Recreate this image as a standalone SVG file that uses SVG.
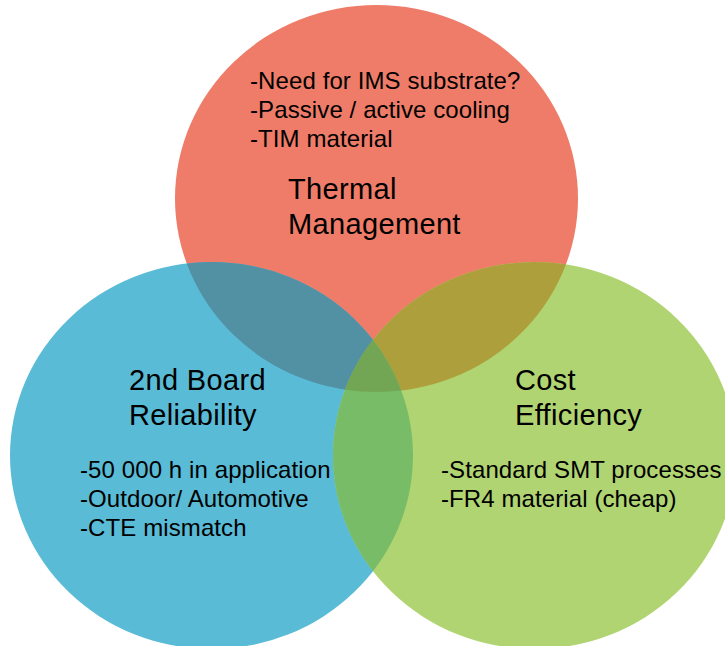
<svg xmlns="http://www.w3.org/2000/svg" width="725" height="646" viewBox="0 0 725 646">
  <style>
    .title { font-family: "Liberation Sans", Arial, Helvetica, sans-serif; font-size: 29px; letter-spacing: 0.35px; fill: #000; }
    .item { font-family: "Liberation Sans", Arial, Helvetica, sans-serif; font-size: 24px; letter-spacing: 0.1px; fill: #000; }
  </style>
  <defs>
    <ellipse id="shape-thermal" cx="376.5" cy="198.5" rx="201.5" ry="193.5"/>
    <ellipse id="shape-reliability" cx="211.5" cy="455.5" rx="201.5" ry="193.5"/>
    <ellipse id="shape-cost" cx="534.5" cy="455.5" rx="201.5" ry="193.5"/>
    <clipPath id="clip-thermal"><use href="#shape-thermal"/></clipPath>
    <clipPath id="clip-cost"><use href="#shape-cost"/></clipPath>
    <clipPath id="clip-thermal-reliability" clip-path="url(#clip-thermal)"><use href="#shape-reliability"/></clipPath>
  </defs>

  <rect width="725" height="646" fill="#ffffff"/>

  <!-- base circles -->
  <g id="thermal-management">
    <use href="#shape-thermal" fill="#EF7C68"/>
  </g>
  <g id="board-reliability">
    <use href="#shape-reliability" fill="#59BBD6"/>
  </g>
  <g id="cost-efficiency">
    <use href="#shape-cost" fill="#B1D472"/>
  </g>

  <!-- overlap regions -->
  <g id="overlaps">
    <use href="#shape-reliability" fill="#5290A4" clip-path="url(#clip-thermal)"/>
    <use href="#shape-thermal" fill="#ADA03C" clip-path="url(#clip-cost)"/>
    <use href="#shape-reliability" fill="#78BC67" clip-path="url(#clip-cost)"/>
    <use href="#shape-cost" fill="#73A654" clip-path="url(#clip-thermal-reliability)"/>
  </g>

  <!-- labels -->
  <g id="thermal-labels">
    <text class="item" x="250" y="89">-Need for IMS substrate?</text>
    <text class="item" x="250" y="118">-Passive / active cooling</text>
    <text class="item" x="250" y="147">-TIM material</text>
    <text class="title" x="288" y="199">Thermal</text>
    <text class="title" x="288" y="234">Management</text>
  </g>
  <g id="reliability-labels">
    <text class="title" x="129" y="390">2nd Board</text>
    <text class="title" x="129" y="425">Reliability</text>
    <text class="item" x="80" y="478">-50 000 h in application</text>
    <text class="item" x="80" y="507">-Outdoor/ Automotive</text>
    <text class="item" x="80" y="536">-CTE mismatch</text>
  </g>
  <g id="cost-labels">
    <text class="title" x="515" y="390">Cost</text>
    <text class="title" x="515" y="425">Efficiency</text>
    <text class="item" x="441" y="478">-Standard SMT processes</text>
    <text class="item" x="441" y="507">-FR4 material (cheap)</text>
  </g>
</svg>
